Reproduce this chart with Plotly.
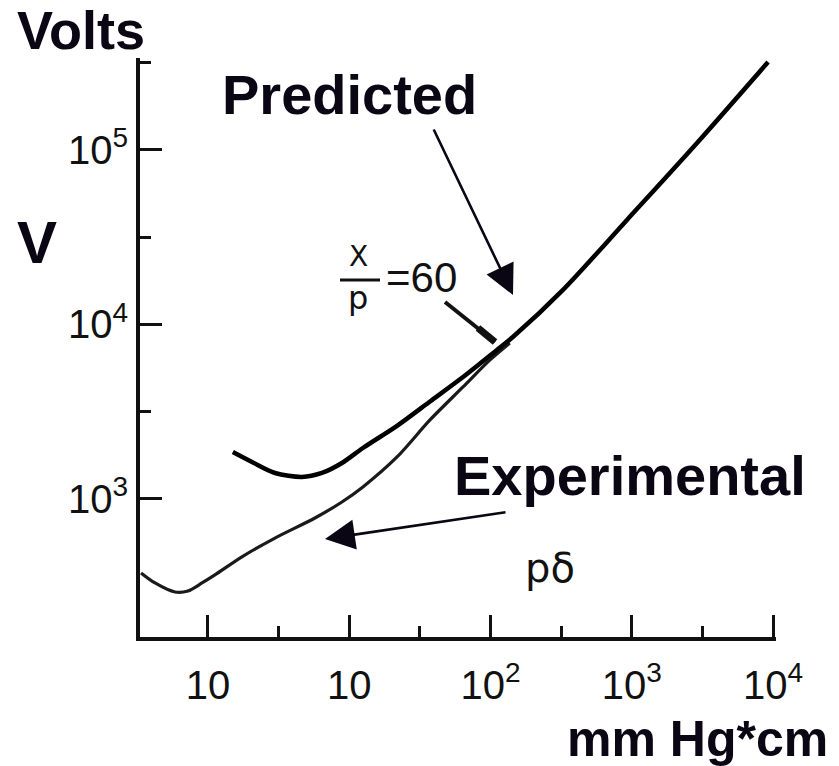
import plotly.graph_objects as go

# Experimental Paschen curve (pd in mm Hg*cm, V in volts)
exp_pd = [0.336, 0.422, 0.584, 0.722, 0.908, 1.12, 1.74, 2.98, 5.72, 8.88, 12.5, 21.8, 37.3, 63.9, 99.2, 137]
exp_v = [377, 330, 293, 297, 330, 367, 466, 597, 778, 961, 1172, 1741, 2838, 4385, 6266, 7834]

# Predicted curve
pred_pd = [1.50, 2.05, 2.98, 4.63, 6.41, 8.88, 12.5, 21.8, 37.3, 63.9, 111, 144, 326, 925, 2897, 9224]
pred_v = [1858, 1629, 1409, 1337, 1409, 1607, 1959, 2625, 3620, 5000, 7145, 8473, 15780, 39720, 109650, 319000]

x_tickvals = [1, 10, 100, 1000, 10000]
x_ticktext = ["10", "10", "10<sup>2</sup>", "10<sup>3</sup>", "10<sup>4</sup>"]
x_minor = [3.162, 31.62, 316.2, 3162]
y_tickvals = [1000, 10000, 100000]
y_ticktext = ["10<sup>3</sup>", "10<sup>4</sup>", "10<sup>5</sup>"]
y_minor = [3162, 31623, 316228]

W, H = 839, 766
L, R, T, B = 140, 63, 58, 129
pw, ph = W - L - R, H - T - B


def px(x):
    return (x - L) / pw


def py(y):
    return (H - B - y) / ph


fig = go.Figure()
fig.add_trace(go.Scatter(x=exp_pd, y=exp_v, mode="lines",
                         line=dict(color="#1a1a1a", width=3.2, shape="spline", smoothing=0.8),
                         showlegend=False, hoverinfo="skip"))
fig.add_trace(go.Scatter(x=pred_pd, y=pred_v, mode="lines",
                         line=dict(color="#000000", width=4.5, shape="spline", smoothing=0.8),
                         showlegend=False, hoverinfo="skip"))

tickfont = dict(family="Liberation Sans, Arial", size=40, color="#111")

fig.update_xaxes(type="log", range=[-0.481, 4.021], showgrid=False, zeroline=False,
                 showline=True, linecolor="#111", linewidth=4,
                 tickmode="array", tickvals=x_tickvals, ticktext=x_ticktext,
                 ticks="inside", ticklen=22, tickwidth=3, tickcolor="#111",
                 tickfont=tickfont, ticklabelstandoff=10,
                 minor=dict(tickmode="array", tickvals=x_minor, ticks="inside",
                            ticklen=11, tickwidth=3, tickcolor="#111", showgrid=False))
fig.update_yaxes(type="log", range=[2.209, 5.527], showgrid=False, zeroline=False,
                 showline=True, linecolor="#111", linewidth=4,
                 tickmode="array", tickvals=y_tickvals, ticktext=y_ticktext,
                 ticks="inside", ticklen=22, tickwidth=3, tickcolor="#111",
                 tickfont=tickfont, ticklabelstandoff=0,
                 minor=dict(tickmode="array", tickvals=y_minor, ticks="inside",
                            ticklen=11, tickwidth=3, tickcolor="#111", showgrid=False))

bold = "Liberation Sans, Arial"
anns = [
    dict(text="<b>Volts</b>", x=px(15), y=py(30), size=54, xa="left"),
    dict(text="<b>V</b>", x=px(15), y=py(243), size=60, xa="left"),
    dict(text="<b>Predicted</b>", x=px(220), y=py(95), size=56, xa="left"),
    dict(text="<b>Experimental</b>", x=px(452), y=py(475), size=56, xa="left"),
    dict(text="<b>mm Hg*cm</b>", x=px(830), y=py(739), size=50, xa="right"),
]
for a in anns:
    fig.add_annotation(text=a["text"], x=a["x"], y=a["y"], xref="paper", yref="paper",
                       xanchor=a["xa"], yanchor="middle", showarrow=False,
                       font=dict(family=bold, size=a["size"], color="#0a0614"))

# p-delta label and X/p = 60
fig.add_annotation(text="pδ", x=px(550), y=py(568), xref="paper", yref="paper",
                   xanchor="center", yanchor="middle", showarrow=False,
                   font=dict(family="DejaVu Sans", size=40, color="#111"))
fig.add_annotation(text="X", x=px(358), y=py(256), xref="paper", yref="paper",
                   xanchor="center", yanchor="middle", showarrow=False,
                   font=dict(family="DejaVu Sans", size=28, color="#111"))
fig.add_annotation(text="p", x=px(358), y=py(298), xref="paper", yref="paper",
                   xanchor="center", yanchor="middle", showarrow=False,
                   font=dict(family="DejaVu Sans", size=32, color="#111"))
fig.add_annotation(text="=60", x=px(384), y=py(277), xref="paper", yref="paper",
                   xanchor="left", yanchor="middle", showarrow=False,
                   font=dict(family="Liberation Sans", size=42, color="#111"))
fig.add_shape(type="line", xref="paper", yref="paper", x0=px(340), x1=px(380),
              y0=py(280), y1=py(280), line=dict(color="#111", width=3))

# X/p pointer: a line thickening toward its tip
fig.add_shape(type="line", xref="paper", yref="paper", x0=px(445), x1=px(495),
              y0=py(302), y1=py(342), line=dict(color="#111", width=4))
fig.add_shape(type="line", xref="paper", yref="paper", x0=px(478), x1=px(495),
              y0=py(328), y1=py(342), line=dict(color="#111", width=7))

# arrows
arrows = [
    dict(tip=(513, 295), tail=(433, 128), head=2, size=2.3, width=2.6),
    dict(tip=(325, 539), tail=(507, 512), head=2, size=2.3, width=2.6),
]
for a in arrows:
    fig.add_annotation(text="", x=px(a["tip"][0]), y=py(a["tip"][1]), xref="paper", yref="paper",
                       ax=a["tail"][0] - a["tip"][0], ay=a["tail"][1] - a["tip"][1],
                       axref="pixel", ayref="pixel", showarrow=True,
                       arrowhead=a["head"], arrowsize=a["size"], arrowwidth=a["width"],
                       arrowcolor="#0a0614", standoff=0)

fig.update_layout(width=W, height=H, margin=dict(l=L, r=R, t=T, b=B),
                  plot_bgcolor="white", paper_bgcolor="white", showlegend=False)

fig.write_html("out.html")
